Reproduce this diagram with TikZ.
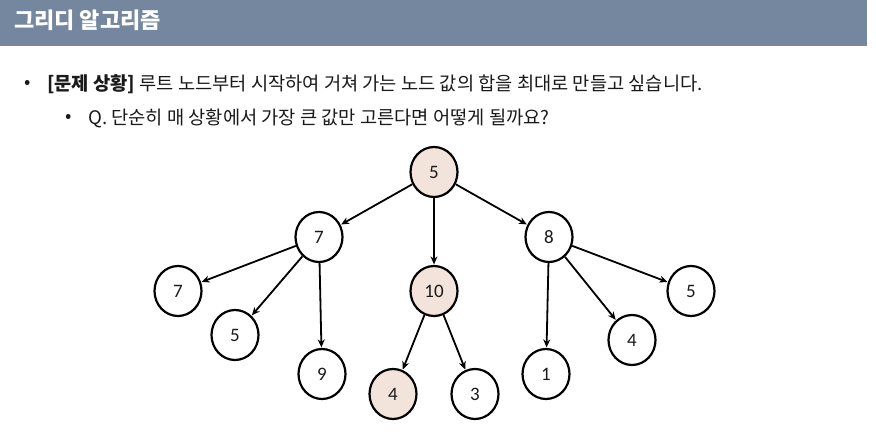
\documentclass[tikz,border=0pt]{standalone}
\usepackage{fontspec}
\setmainfont{Carlito}
\newfontfamily\krfont{Noto Sans CJK KR}
\usetikzlibrary{arrows.meta,shapes.geometric}
\definecolor{headbar}{HTML}{74879F}
\definecolor{hlfill}{HTML}{F2E4DA}
\definecolor{inkc}{HTML}{1A1A1A}
\tikzset{
  tnode/.style={ellipse, draw=black, line width=2.2pt, fill=white, minimum width=47pt, minimum height=50pt, inner sep=0pt, font=\fontsize{19}{19}\selectfont, text=inkc},
  hnode/.style={tnode, fill=hlfill},
  edge/.style={line width=1.8pt, -{Stealth[length=8pt,width=7pt]}, shorten >=0.5pt},
  krtext/.style={anchor=west, inner sep=0pt, text=inkc, font=\krfont\fontsize{18.7}{18.7}\selectfont},
}
\begin{document}
\begin{tikzpicture}[x=1pt,y=-1pt]
\useasboundingbox (0,0) rectangle (876,438);
\fill[white] (0,0) rectangle (876,438);
\fill[headbar] (0,0) rectangle (867,46);
\node[anchor=west, inner sep=0pt, text=white, font=\krfont\bfseries\fontsize{22}{22}\selectfont] (title) at (14,20) {그리디 알고리즘};
\node[krtext] (b1) at (24,84) {•};
\node[krtext] (l1) at (47,84) {\textbf{[문제 상황]} 루트 노드부터 시작하여 거쳐 가는 노드 값의 합을 최대로 만들고 싶습니다.};
\node[krtext] (b2) at (65,118) {•};
\node[krtext] (l2) at (88,118) {Q. 단순히 매 상황에서 가장 큰 값만 고른다면 어떻게 될까요?};

\node[hnode] (r) at (434,172) {5};
\node[tnode] (a) at (319,237) {7};
\node[hnode] (b) at (434,291) {10};
\node[tnode] (c) at (549,237) {8};
\node[tnode] (a1) at (178,291) {7};
\node[tnode] (a2) at (235,335) {5};
\node[tnode] (a3) at (322,374) {9};
\node[hnode] (b1n) at (393,394) {4};
\node[tnode] (b2n) at (475,394) {3};
\node[tnode] (c1) at (546,374) {1};
\node[tnode] (c2) at (632,340) {4};
\node[tnode] (c3) at (691,291) {5};

\draw[edge] (r) -- (a);
\draw[edge] (r) -- (b);
\draw[edge] (r) -- (c);
\draw[edge] (a) -- (a1);
\draw[edge] (a) -- (a2);
\draw[edge] (a) -- (a3);
\draw[edge] (b) -- (b1n);
\draw[edge] (b) -- (b2n);
\draw[edge] (c) -- (c1);
\draw[edge] (c) -- (c2);
\draw[edge] (c) -- (c3);
\end{tikzpicture}
\end{document}
